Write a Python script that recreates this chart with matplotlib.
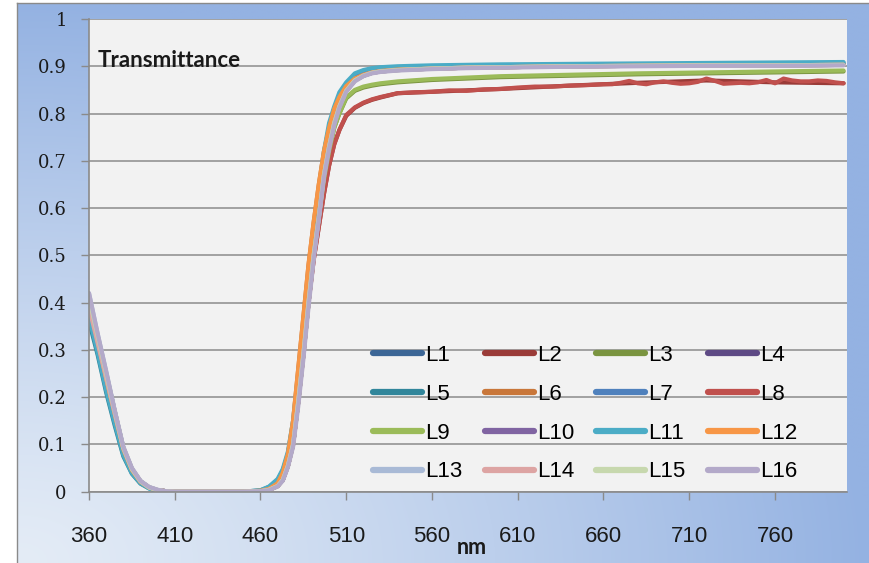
import numpy as np
import matplotlib
matplotlib.use("Agg")
import matplotlib.pyplot as plt
from matplotlib.colors import to_rgb

W, H = 869, 563
DPI = 100

# ---------------- data ----------------
wl = [360, 365, 370, 375, 380, 385, 390, 395, 400, 405, 410, 430, 450, 460, 465,
      470, 473, 476, 479, 482, 485, 488, 491, 494, 497, 500, 503, 506, 510, 515,
      520, 525, 530, 540, 560, 580, 600, 640, 680, 720, 760, 800]

L1 = [0.40, 0.32, 0.24, 0.165, 0.09, 0.046, 0.021, 0.009, 0.003, 0.001, 0, 0, 0, 0.001, 0.005,
      0.014, 0.028, 0.06, 0.11, 0.20, 0.30, 0.41, 0.51, 0.59, 0.68, 0.74, 0.79, 0.825, 0.855, 0.875,
      0.884, 0.889, 0.892, 0.895, 0.897, 0.899, 0.900, 0.901, 0.902, 0.903, 0.903, 0.904]
L2 = [0.40, 0.32, 0.24, 0.165, 0.09, 0.046, 0.021, 0.009, 0.003, 0.001, 0, 0, 0, 0.001, 0.004,
      0.012, 0.025, 0.055, 0.10, 0.19, 0.29, 0.40, 0.49, 0.56, 0.63, 0.69, 0.735, 0.765, 0.795, 0.812,
      0.822, 0.829, 0.834, 0.843, 0.846, 0.849, 0.852, 0.859, 0.865, 0.870, 0.866, 0.864]
L3 = [0.40, 0.32, 0.24, 0.165, 0.09, 0.046, 0.021, 0.009, 0.003, 0.001, 0, 0, 0, 0.001, 0.004,
      0.012, 0.025, 0.055, 0.10, 0.19, 0.29, 0.40, 0.50, 0.58, 0.66, 0.72, 0.77, 0.80, 0.832, 0.848,
      0.855, 0.859, 0.862, 0.866, 0.871, 0.874, 0.877, 0.880, 0.883, 0.885, 0.887, 0.889]
L4 = [0.41, 0.33, 0.25, 0.17, 0.093, 0.048, 0.022, 0.009, 0.003, 0.001, 0, 0, 0, 0.001, 0.004,
      0.012, 0.025, 0.055, 0.10, 0.19, 0.29, 0.40, 0.50, 0.58, 0.67, 0.73, 0.78, 0.815, 0.848, 0.87,
      0.88, 0.886, 0.889, 0.892, 0.895, 0.897, 0.898, 0.900, 0.901, 0.902, 0.902, 0.903]
L5 = [0.36, 0.29, 0.21, 0.14, 0.075, 0.038, 0.017, 0.007, 0.002, 0.001, 0, 0, 0, 0.003, 0.010,
      0.025, 0.045, 0.08, 0.14, 0.24, 0.35, 0.46, 0.55, 0.63, 0.71, 0.77, 0.81, 0.84, 0.862, 0.882,
      0.89, 0.894, 0.896, 0.898, 0.900, 0.901, 0.902, 0.903, 0.904, 0.905, 0.906, 0.907]
L6 = [0.40, 0.32, 0.24, 0.165, 0.09, 0.046, 0.021, 0.009, 0.003, 0.001, 0, 0, 0, 0.002, 0.006,
      0.018, 0.04, 0.08, 0.15, 0.26, 0.37, 0.48, 0.57, 0.65, 0.72, 0.77, 0.81, 0.835, 0.858, 0.874,
      0.882, 0.887, 0.89, 0.893, 0.895, 0.897, 0.898, 0.900, 0.901, 0.902, 0.902, 0.903]
L7 = [0.40, 0.32, 0.24, 0.165, 0.09, 0.046, 0.021, 0.009, 0.003, 0.001, 0, 0, 0, 0.001, 0.005,
      0.014, 0.028, 0.06, 0.11, 0.20, 0.30, 0.41, 0.51, 0.59, 0.68, 0.74, 0.79, 0.825, 0.855, 0.876,
      0.885, 0.89, 0.893, 0.896, 0.898, 0.900, 0.901, 0.902, 0.903, 0.904, 0.904, 0.905]
L9 = [0.40, 0.32, 0.24, 0.165, 0.09, 0.046, 0.021, 0.009, 0.003, 0.001, 0, 0, 0, 0.001, 0.004,
      0.012, 0.025, 0.055, 0.10, 0.19, 0.29, 0.40, 0.50, 0.58, 0.66, 0.72, 0.77, 0.80, 0.834, 0.85,
      0.857, 0.861, 0.864, 0.868, 0.873, 0.876, 0.879, 0.882, 0.885, 0.887, 0.889, 0.891]
L10 = [0.41, 0.33, 0.25, 0.17, 0.093, 0.048, 0.022, 0.009, 0.003, 0.001, 0, 0, 0, 0.001, 0.004,
       0.012, 0.025, 0.055, 0.10, 0.19, 0.29, 0.40, 0.50, 0.58, 0.67, 0.73, 0.78, 0.815, 0.848, 0.87,
       0.88, 0.886, 0.889, 0.892, 0.895, 0.897, 0.898, 0.900, 0.901, 0.902, 0.902, 0.903]
L11 = [0.37, 0.295, 0.215, 0.145, 0.078, 0.039, 0.018, 0.007, 0.002, 0.001, 0, 0, 0, 0.003, 0.011,
       0.027, 0.048, 0.085, 0.15, 0.25, 0.36, 0.47, 0.56, 0.64, 0.72, 0.78, 0.815, 0.845, 0.866, 0.885,
       0.892, 0.896, 0.898, 0.900, 0.902, 0.903, 0.904, 0.905, 0.906, 0.907, 0.908, 0.909]
L12 = [0.40, 0.32, 0.24, 0.165, 0.09, 0.046, 0.021, 0.009, 0.003, 0.001, 0, 0, 0, 0.002, 0.006,
       0.018, 0.04, 0.08, 0.15, 0.26, 0.37, 0.48, 0.57, 0.65, 0.72, 0.77, 0.81, 0.835, 0.858, 0.874,
       0.882, 0.887, 0.89, 0.893, 0.895, 0.897, 0.898, 0.900, 0.901, 0.902, 0.902, 0.903]
L13 = [0.42, 0.335, 0.255, 0.172, 0.095, 0.05, 0.023, 0.010, 0.004, 0.001, 0, 0, 0, 0.001, 0.004,
       0.012, 0.025, 0.055, 0.10, 0.19, 0.29, 0.40, 0.50, 0.58, 0.67, 0.73, 0.78, 0.815, 0.848, 0.87,
       0.88, 0.886, 0.889, 0.892, 0.895, 0.897, 0.898, 0.900, 0.901, 0.902, 0.902, 0.903]
L14 = [0.39, 0.315, 0.24, 0.165, 0.092, 0.048, 0.022, 0.009, 0.003, 0.001, 0, 0, 0, 0.001, 0.004,
       0.012, 0.025, 0.055, 0.10, 0.19, 0.29, 0.40, 0.50, 0.58, 0.67, 0.73, 0.78, 0.815, 0.848, 0.87,
       0.88, 0.886, 0.889, 0.892, 0.895, 0.897, 0.898, 0.900, 0.901, 0.902, 0.902, 0.903]
L15 = [0.41, 0.33, 0.25, 0.17, 0.093, 0.048, 0.022, 0.009, 0.003, 0.001, 0, 0, 0, 0.001, 0.004,
       0.012, 0.025, 0.055, 0.10, 0.19, 0.29, 0.40, 0.50, 0.58, 0.67, 0.73, 0.78, 0.815, 0.848, 0.87,
       0.88, 0.886, 0.889, 0.892, 0.895, 0.897, 0.898, 0.900, 0.901, 0.902, 0.902, 0.903]
L16 = [0.42, 0.335, 0.255, 0.172, 0.095, 0.05, 0.023, 0.010, 0.004, 0.001, 0, 0, 0, 0.001, 0.003,
       0.011, 0.023, 0.052, 0.095, 0.18, 0.28, 0.39, 0.49, 0.575, 0.665, 0.725, 0.775, 0.812, 0.846, 0.868,
       0.879, 0.885, 0.888, 0.891, 0.894, 0.896, 0.897, 0.899, 0.900, 0.901, 0.901, 0.902]

# L8 (red) has a noisy plateau: its own finer wavelength grid
wl_L8 = [360, 365, 370, 375, 380, 385, 390, 395, 400, 405, 410, 430, 450, 460, 465,
         470, 473, 476, 479, 482, 485, 488, 491, 494, 497, 500, 503, 506, 510, 515,
         520, 525, 530, 540, 550, 560, 570, 580, 590, 600, 610, 620, 630, 640, 650,
         660, 665, 670, 675, 680, 685, 690, 695, 700, 705, 710, 715, 720, 725, 730,
         735, 740, 745, 750, 755, 760, 765, 770, 775, 780, 785, 790, 795, 800]
L8 = [0.40, 0.32, 0.24, 0.165, 0.09, 0.046, 0.021, 0.009, 0.003, 0.001, 0, 0, 0, 0.001, 0.004,
      0.012, 0.025, 0.055, 0.10, 0.19, 0.29, 0.40, 0.49, 0.56, 0.63, 0.69, 0.735, 0.765, 0.797, 0.813,
      0.823, 0.83, 0.835, 0.843, 0.845, 0.846, 0.849, 0.848, 0.851, 0.852, 0.855, 0.857, 0.857, 0.859, 0.860,
      0.862, 0.862, 0.865, 0.869, 0.864, 0.862, 0.866, 0.868, 0.865, 0.863, 0.864, 0.867, 0.874, 0.869, 0.863,
      0.864, 0.865, 0.864, 0.866, 0.871, 0.864, 0.874, 0.870, 0.868, 0.868, 0.870, 0.869, 0.866, 0.864]

names = ["L1", "L2", "L3", "L4", "L5", "L6", "L7", "L8",
         "L9", "L10", "L11", "L12", "L13", "L14", "L15", "L16"]
series = [L1, L2, L3, L4, L5, L6, L7, L8, L9, L10, L11, L12, L13, L14, L15, L16]
xs = [wl, wl, wl, wl, wl, wl, wl, wl_L8, wl, wl, wl, wl, wl, wl, wl, wl]
colors = ["#3C6696", "#9A3B38", "#7A9440", "#5E4A85", "#31869B", "#C9773A",
          "#4F81BD", "#C0504D", "#9BBB59", "#8064A2", "#4BACC6", "#F79646",
          "#A9BAD6", "#DDA4A3", "#C7D8AE", "#B3A9C9"]

xticks = [360, 410, 460, 510, 560, 610, 660, 710, 760]
yticks = [0, 0.1, 0.2, 0.3, 0.4, 0.5, 0.6, 0.7, 0.8, 0.9, 1]
ytick_labels = ["0", "0.1", "0.2", "0.3", "0.4", "0.5", "0.6", "0.7", "0.8", "0.9", "1"]

# ---------------- figure ----------------
fig = plt.figure(figsize=(W / DPI, H / DPI), dpi=DPI, facecolor="white")

# chart-area gradient background
bx0, by_top = 17, 3
bg = fig.add_axes([bx0 / W, 0, 1 - bx0 / W, 1 - by_top / H], zorder=0)
ny, nx = 200, 300
gx = np.linspace(0, 1, nx)[None, :]
gy = np.linspace(1, 0, ny)[:, None]  # 1 at top
v = np.clip(np.sqrt(gx ** 2 + gy ** 2), 0, 1) ** 1.2
blue = np.array(to_rgb("#94B2E2"))
light = np.array(to_rgb("#E4ECF6"))
img = light[None, None, :] + (blue - light)[None, None, :] * v[..., None]
bg.imshow(img, aspect="auto", extent=[0, 1, 0, 1], interpolation="bilinear")
bg.set_xlim(0, 1)
bg.set_ylim(0, 1)
bg.set_xticks([])
bg.set_yticks([])
for s in ["right", "bottom"]:
    bg.spines[s].set_visible(False)
for s in ["left", "top"]:
    bg.spines[s].set_color("#8A8A8A")
    bg.spines[s].set_linewidth(1.0)

# plot area
left, right, top, bottom = 89, 847, 19, 491.7
ax = fig.add_axes([left / W, (H - bottom) / H, (right - left) / W, (bottom - top) / H], zorder=2)
ax.set_facecolor("#F2F2F2")

handles = []
for x, y, c, n in zip(xs, series, colors, names):
    h, = ax.plot(x, y, color=c, lw=3.0, label=n, solid_capstyle="round", solid_joinstyle="round")
    handles.append(h)

ax.set_xlim(360, 802)
ax.set_ylim(0, 1)
ax.set_yticks(yticks)
ax.set_yticklabels(ytick_labels, family=["DejaVu Serif"], fontsize=13, color="#1a1a1a")
ax.set_xticks(xticks)
ax.set_xticklabels([str(t) for t in xticks],
                   family=["Liberation Sans Narrow", "Liberation Sans", "DejaVu Sans"],
                   fontsize=16, color="#1a1a1a")
ax.tick_params(axis="y", direction="out", length=6, width=1.0, color="#8A8A8A", pad=10)
ax.tick_params(axis="x", direction="out", length=6, width=1.0, color="#8A8A8A", pad=19)
ax.grid(axis="y", color="#8C8C8C", lw=1.1)
ax.set_axisbelow(True)
for s in ["top", "right"]:
    ax.spines[s].set_visible(False)
for s in ["left", "bottom"]:
    ax.spines[s].set_color("#8A8A8A")
    ax.spines[s].set_linewidth(1.2)

# texts
fig.text(98 / W, (H - 67) / H, "Transmittance", family=["Lato", "DejaVu Sans"],
         fontweight="bold", fontsize=16, color="#1a1a1a", ha="left", va="baseline", zorder=5)
fig.text(457 / W, (H - 554) / H, "nm", family=["Lato", "DejaVu Sans"],
         fontweight="bold", fontsize=15.5, color="#1a1a1a", ha="left", va="baseline", zorder=5)

# legend: row-major order (L1 L2 L3 L4 / L5 ...), matplotlib fills column-first
ncol, nrow = 4, 4
order = [r * ncol + c for c in range(ncol) for r in range(nrow)]
leg = ax.legend([handles[i] for i in order], [names[i] for i in order],
                ncol=ncol, loc="upper left",
                bbox_to_anchor=((373 - left) / (right - left), (bottom - 345) / (bottom - top)),
                frameon=False,
                prop={"family": ["Liberation Sans Narrow", "Liberation Sans", "DejaVu Sans"], "size": 16},
                handlelength=2.2, handletextpad=0.15, columnspacing=1.0, labelspacing=0.8,
                borderaxespad=0, borderpad=0)
for line in leg.get_lines():
    line.set_linewidth(4.5)
    line.set_solid_capstyle("round")

fig.savefig("out.png", dpi=DPI, facecolor=fig.get_facecolor())
